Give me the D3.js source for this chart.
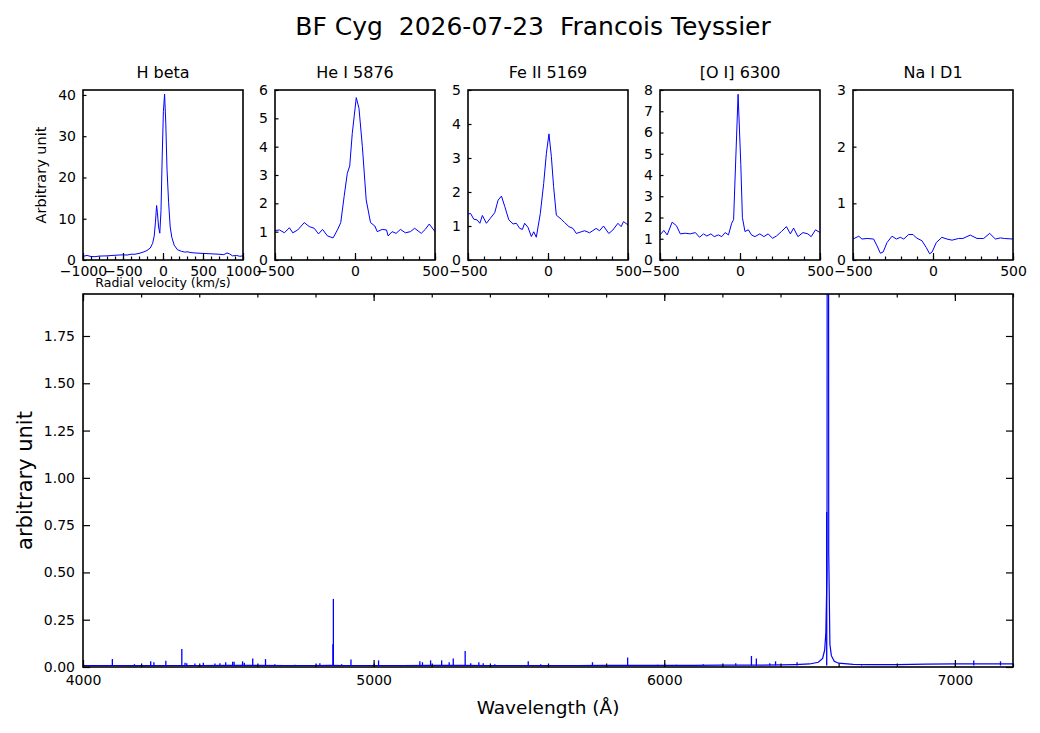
<!DOCTYPE html>
<html>
<head>
<meta charset="utf-8">
<script src="https://cdn.jsdelivr.net/npm/d3@7"></script>
<style>
  body { margin: 0; background: #fff; }
  text { font-family: "DejaVu Sans", sans-serif; }
</style>
</head>
<body>
<svg id="chart" width="1040" height="733"></svg>
<script>
// ---- data ----
var titleText = "BF Cyg  2026-07-23  Francois Teyssier";

// line profiles (velocity km/s, arbitrary unit)
var hbetaVel  = [-1000,-950,-900,-850,-800,-700,-600,-500,-450,-400,-350,-300,-250,-200,-160,-130,-110,-95,-80,-70,-55,-40,-25,-10,5,20,35,50,70,90,110,140,180,230,280,300,350,400,500,600,700,760,800,830,870,920,960,1000];
var hbetaFlux = [0.9,1.1,0.85,0.8,0.95,1.0,1.15,1.25,1.2,1.4,1.4,1.6,1.9,2.3,2.9,4.0,5.8,9.0,13.2,11.5,8.0,6.5,12,25,36,40.2,33,22,14,8,5.5,3.6,2.5,2.1,1.9,2.0,1.8,1.7,1.6,1.5,1.4,1.3,1.7,1.5,1.0,1.1,0.9,1.0];

var heVel  = [-500,-472,-441,-410,-389,-358,-317,-286,-255,-228,-203,-172,-137,-110,-89,-68,-48,-33,-17,8,25,46,70,97,124,139,170,197,207,232,257,284,315,346,373,414,439,464,500];
var heFlux = [1.04,1.06,0.96,1.14,0.96,1.06,1.32,1.18,1.12,0.92,1.08,0.85,0.78,1.06,1.32,2.24,3.06,3.32,4.47,5.73,5.35,4.0,2.12,1.32,1.2,1.0,1.08,1.06,0.85,1.0,0.94,1.08,0.96,1.0,1.12,0.94,1.08,1.27,1.0];

var feVel  = [-500,-484,-464,-443,-426,-410,-385,-360,-333,-312,-291,-270,-245,-218,-198,-177,-160,-146,-125,-104,-89,-73,-48,-27,-10,6,21,35,52,83,104,131,156,177,208,229,260,301,322,347,380,405,437,457,472,500];
var feFlux = [1.35,1.37,1.2,1.18,1.08,1.31,1.08,1.23,1.39,1.76,1.88,1.57,1.18,1.06,1.08,0.93,0.9,1.08,0.96,0.69,0.83,0.67,1.37,2.25,3.14,3.71,3.04,2.16,1.32,1.2,1.1,0.98,0.93,0.78,0.83,0.86,0.8,0.93,0.86,1.0,0.78,0.88,1.08,0.98,1.13,1.03];

var oiVel  = [-500,-476,-455,-424,-397,-373,-342,-311,-279,-253,-228,-207,-182,-161,-135,-114,-93,-72,-52,-40,-30,-12,5,15,31,52,72,93,124,149,176,203,228,259,290,315,335,362,393,424,445,472,500];
var oiFlux = [1.18,1.39,1.18,1.78,1.61,1.23,1.26,1.23,1.29,1.07,1.23,1.13,1.23,1.1,1.18,1.1,1.29,1.18,1.73,1.9,4.0,7.8,4.5,2.0,1.34,1.42,1.18,1.1,1.23,1.1,1.23,1.02,1.13,1.34,1.57,1.23,1.5,1.1,1.29,1.23,1.1,1.42,1.29];

var naVel  = [-500,-464,-444,-412,-371,-350,-329,-312,-287,-256,-229,-204,-183,-152,-125,-104,-69,-42,-21,-6,21,56,87,119,160,187,233,275,317,354,390,421,446,500];
var naFlux = [0.37,0.42,0.37,0.38,0.37,0.25,0.12,0.14,0.31,0.42,0.37,0.4,0.37,0.45,0.45,0.39,0.34,0.22,0.11,0.14,0.31,0.4,0.37,0.35,0.38,0.38,0.44,0.38,0.38,0.47,0.37,0.39,0.38,0.37];

var panelNames = ["H beta", "He I 5876", "Fe II 5169", "[O I] 6300", "Na I D1"];
var panelYMax = [41.2, 6, 5, 8, 3];
var hbetaYTicks = [0, 10, 20, 30, 40];
var heYTicks = [0, 1, 2, 3, 4, 5, 6];
var feYTicks = [0, 1, 2, 3, 4, 5];
var oiYTicks = [0, 1, 2, 3, 4, 5, 6, 7, 8];
var naYTicks = [0, 1, 2, 3];
var wideVelTicks = [-1000, -500, 0, 500, 1000];
var wideVelMinor = [-1000,-900,-800,-700,-600,-500,-400,-300,-200,-100,0,100,200,300,400,500,600,700,800,900,1000];
var velTicks = [-500, 0, 500];
var velMinor = [-500,-400,-300,-200,-100,0,100,200,300,400,500];

// full spectrum: continuum (wavelength A, flux) and narrow emission lines
var contWave = [4000,4100,4200,4300,4400,4500,4600,4700,4800,4850,4900,5000,5100,5200,5300,5400,5500,5600,5700,5800,5900,6000,6100,6200,6300,6400,6450,6500,6530,6545,6552,6556,6560,6562,6564,6566,6570,6575,6585,6600,6650,6700,6800,6900,7000,7100,7200];
var contFlux = [0.007,0.008,0.007,0.008,0.008,0.009,0.009,0.008,0.008,0.009,0.008,0.008,0.008,0.009,0.009,0.008,0.008,0.008,0.008,0.009,0.009,0.009,0.009,0.010,0.010,0.011,0.013,0.016,0.025,0.045,0.09,0.18,0.5,6,6,0.6,0.12,0.06,0.03,0.02,0.014,0.013,0.013,0.015,0.016,0.017,0.016];
var lineWave = [4101,4177,4233,4244,4285,4340,4351,4357,4385,4414,4454,4471,4491,4515,4520,4549,4555,4584,4628,4660,4729,4804,4815,4860,4861.5,4890,4922,5017,5159,5168,5196,5234,5260,5274,5315,5334,5362,5377,5417,5532,5575,5753,5874,5977,6042,6134,6246,6300,6317,6363,6383,6457,6559,6679,7065,7157];
var lineFlux = [0.042,0.015,0.03,0.025,0.033,0.095,0.022,0.02,0.018,0.022,0.018,0.02,0.025,0.028,0.028,0.03,0.022,0.045,0.042,0.015,0.012,0.012,0.02,0.12,0.36,0.015,0.04,0.035,0.03,0.025,0.035,0.035,0.025,0.045,0.085,0.02,0.025,0.02,0.015,0.03,0.015,0.025,0.05,0.012,0.012,0.015,0.02,0.058,0.045,0.02,0.03,0.025,0.82,0.015,0.035,0.03];
var waveTicks = [4000, 5000, 6000, 7000];
var waveMinor = [4000,4200,4400,4600,4800,5000,5200,5400,5600,5800,6000,6200,6400,6600,6800,7000,7200];
var fluxTicks = [0, 0.25, 0.5, 0.75, 1.0, 1.25, 1.5, 1.75];

// ---- layout ----
var svg = d3.select("#chart");
var panelLefts = [83, 275, 468, 660, 853];
var panelW = 160, panelH = 170, panelTop = 90;
var main = { left: 83, right: 1013, top: 294, bottom: 667 };

var panels = [
  { vel: hbetaVel, flux: hbetaFlux, yTicks: hbetaYTicks, xTicks: wideVelTicks, xMinor: wideVelMinor, xDomain: [-1000, 1000] },
  { vel: heVel, flux: heFlux, yTicks: heYTicks, xTicks: velTicks, xMinor: velMinor, xDomain: [-500, 500] },
  { vel: feVel, flux: feFlux, yTicks: feYTicks, xTicks: velTicks, xMinor: velMinor, xDomain: [-500, 500] },
  { vel: oiVel, flux: oiFlux, yTicks: oiYTicks, xTicks: velTicks, xMinor: velMinor, xDomain: [-500, 500] },
  { vel: naVel, flux: naFlux, yTicks: naYTicks, xTicks: velTicks, xMinor: velMinor, xDomain: [-500, 500] }
];

// style an axis group like matplotlib
function styleAxis(g, fontSize) {
  g.select(".domain").remove();
  g.selectAll(".tick line").attr("stroke", "#000").attr("stroke-width", 1.2);
  g.selectAll(".tick text").attr("fill", "#000").style("font-size", fontSize + "px")
    .style("font-family", "'DejaVu Sans', sans-serif");
}

svg.append("text")
  .attr("x", 533).attr("y", 35)
  .attr("text-anchor", "middle")
  .attr("xml:space", "preserve")
  .style("white-space", "pre")
  .style("font-size", "25px")
  .attr("fill", "#000")
  .text(titleText);

panels.forEach(function (p, i) {
  var g = svg.append("g").attr("transform", "translate(" + panelLefts[i] + "," + panelTop + ")");
  var x = d3.scaleLinear().domain(p.xDomain).range([0, panelW]);
  var y = d3.scaleLinear().domain([0, panelYMax[i]]).range([panelH, 0]);

  g.append("clipPath").attr("id", "clip" + i)
    .append("rect").attr("width", panelW).attr("height", panelH);

  var line = d3.line()
    .x(function (d, k) { return x(p.vel[k]); })
    .y(function (d) { return y(d); });

  g.append("path")
    .datum(p.flux)
    .attr("clip-path", "url(#clip" + i + ")")
    .attr("fill", "none")
    .attr("stroke", "#0000ff")
    .attr("stroke-width", 1)
    .attr("d", line);

  // minor x ticks
  var gm = g.append("g").attr("transform", "translate(0," + panelH + ")")
    .call(d3.axisBottom(x).tickValues(p.xMinor).tickSize(-3.5).tickFormat(""));
  styleAxis(gm, 14);

  var gx = g.append("g").attr("transform", "translate(0," + panelH + ")")
    .call(d3.axisBottom(x).tickValues(p.xTicks).tickSize(-7).tickPadding(6).tickFormat(d3.format("d")));
  styleAxis(gx, 14);

  var gy = g.append("g")
    .call(d3.axisLeft(y).tickValues(p.yTicks).tickSize(-3.5).tickPadding(7).tickFormat(d3.format("d")));
  styleAxis(gy, 14);

  g.append("rect")
    .attr("width", panelW).attr("height", panelH)
    .attr("fill", "none").attr("stroke", "#000").attr("stroke-width", 1.6);

  g.append("text")
    .attr("x", panelW / 2).attr("y", -12)
    .attr("text-anchor", "middle")
    .style("font-size", "16px")
    .attr("fill", "#000")
    .text(panelNames[i]);
});

// labels of the first panel
svg.append("text")
  .attr("transform", "translate(46," + (panelTop + panelH / 2) + ") rotate(-90)")
  .attr("text-anchor", "middle")
  .style("font-size", "14.5px")
  .attr("fill", "#000")
  .text("Arbitrary unit");

svg.append("text")
  .attr("x", panelLefts[0] + panelW / 2).attr("y", 287)
  .attr("text-anchor", "middle")
  .style("font-size", "12.5px")
  .attr("fill", "#000")
  .text("Radial velocity (km/s)");

// ---- main spectrum ----
var mw = main.right - main.left, mh = main.bottom - main.top;
var gMain = svg.append("g").attr("transform", "translate(" + main.left + "," + main.top + ")");
var xW = d3.scaleLinear().domain([4000, 7200]).range([0, mw]);
var yF = d3.scaleLinear().domain([0, 1.972]).range([mh, 0]);

gMain.append("clipPath").attr("id", "clipMain")
  .append("rect").attr("width", mw).attr("height", mh);

var plotArea = gMain.append("g").attr("clip-path", "url(#clipMain)");

plotArea.append("path")
  .datum(contFlux)
  .attr("fill", "none")
  .attr("stroke", "#0000ff")
  .attr("stroke-width", 1.2)
  .attr("d", d3.line()
    .x(function (d, k) { return xW(contWave[k]); })
    .y(function (d) { return yF(d); }));

plotArea.selectAll("line.em")
  .data(lineFlux)
  .enter()
  .append("line")
  .attr("class", "em")
  .attr("x1", function (d, k) { return xW(lineWave[k]); })
  .attr("x2", function (d, k) { return xW(lineWave[k]); })
  .attr("y1", yF(0.008))
  .attr("y2", function (d) { return yF(d); })
  .attr("stroke", "#0000ff")
  .attr("stroke-width", 1.3);

// ticks on all four sides, pointing inward
var bMinor = gMain.append("g").attr("transform", "translate(0," + mh + ")")
  .call(d3.axisBottom(xW).tickValues(waveMinor).tickSize(-3.5).tickFormat(""));
styleAxis(bMinor, 14);
var bMajor = gMain.append("g").attr("transform", "translate(0," + mh + ")")
  .call(d3.axisBottom(xW).tickValues(waveTicks).tickSize(-7).tickPadding(8).tickFormat(d3.format("d")));
styleAxis(bMajor, 14);
var tMinor = gMain.append("g")
  .call(d3.axisTop(xW).tickValues(waveMinor).tickSize(-3.5).tickFormat(""));
styleAxis(tMinor, 14);
var tMajor = gMain.append("g")
  .call(d3.axisTop(xW).tickValues(waveTicks).tickSize(-7).tickFormat(""));
styleAxis(tMajor, 14);
var lAxis = gMain.append("g")
  .call(d3.axisLeft(yF).tickValues(fluxTicks).tickSize(-7).tickPadding(8).tickFormat(d3.format(".2f")));
styleAxis(lAxis, 14);
var rAxis = gMain.append("g").attr("transform", "translate(" + mw + ",0)")
  .call(d3.axisRight(yF).tickValues(fluxTicks).tickSize(-7).tickFormat(""));
styleAxis(rAxis, 14);

gMain.append("rect")
  .attr("width", mw).attr("height", mh)
  .attr("fill", "none").attr("stroke", "#000").attr("stroke-width", 1.6);

svg.append("text")
  .attr("x", (main.left + main.right) / 2).attr("y", 714)
  .attr("text-anchor", "middle")
  .style("font-size", "18.5px")
  .attr("fill", "#000")
  .text("Wavelength (Å)");

svg.append("text")
  .attr("transform", "translate(32," + ((main.top + main.bottom) / 2) + ") rotate(-90)")
  .attr("text-anchor", "middle")
  .style("font-size", "21px")
  .attr("fill", "#000")
  .text("arbitrary unit");
</script>
</body>
</html>
